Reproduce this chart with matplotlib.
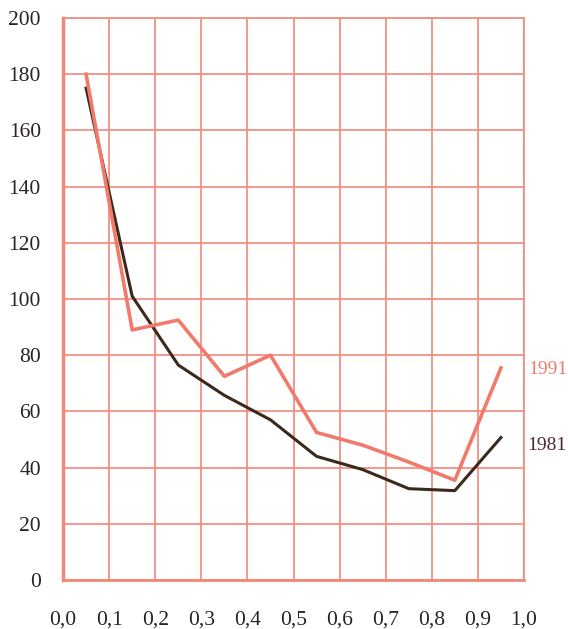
import matplotlib
matplotlib.use("Agg")
import matplotlib.pyplot as plt

x_mid = [0.05, 0.15, 0.25, 0.35, 0.45, 0.55, 0.65, 0.75, 0.85, 0.95]
y1991 = [180, 89, 92.5, 72.5, 80, 52.5, 48, 42, 35.5, 75.5]
y1981 = [175, 101, 76.5, 65.7, 57, 44, 39.3, 32.5, 31.8, 50.7]
x_ticks = [0.0, 0.1, 0.2, 0.3, 0.4, 0.5, 0.6, 0.7, 0.8, 0.9, 1.0]
x_ticklabels = ["0,0", "0,1", "0,2", "0,3", "0,4", "0,5", "0,6", "0,7", "0,8", "0,9", "1,0"]
y_ticks = [0, 20, 40, 60, 80, 100, 120, 140, 160, 180, 200]

grid_c = "#f2877a"
c1991 = "#f27a6c"
c1981 = "#3b2a1c"
plt.rcParams['font.family'] = ['Liberation Serif', 'DejaVu Serif']

fig = plt.figure(figsize=(5.68, 6.29), dpi=100)
ax = fig.add_axes([0.111, 0.0779, 0.8115, 0.8935])
ax.set_xlim(0, 1)
ax.set_ylim(0, 200)
ax.set_xticks(x_ticks)
ax.set_xticklabels(x_ticklabels)
ax.set_yticks(y_ticks)
ax.grid(True, color=grid_c, lw=1.2)
ax.tick_params(length=0, labelsize=15.5, colors="#2a2420")
ax.tick_params(axis='x', pad=22)
ax.tick_params(axis='y', pad=16)
for s in ax.spines.values():
    s.set_color(grid_c)
    s.set_linewidth(1.2)
ax.spines['left'].set_linewidth(2.5)
ax.spines['bottom'].set_linewidth(2.0)

ax.plot(x_mid, y1981, color=c1981, lw=2.2, zorder=3)
ax.plot(x_mid, y1991, color=c1991, lw=2.6, zorder=4)

ax.text(1.009, 75, "1991", color=c1991, fontsize=14, va='center', ha='left', clip_on=False)
ax.text(1.007, 48, "1981", color="#4a2a30", fontsize=14, va='center', ha='left', clip_on=False)

fig.savefig("out.png", dpi=100)
